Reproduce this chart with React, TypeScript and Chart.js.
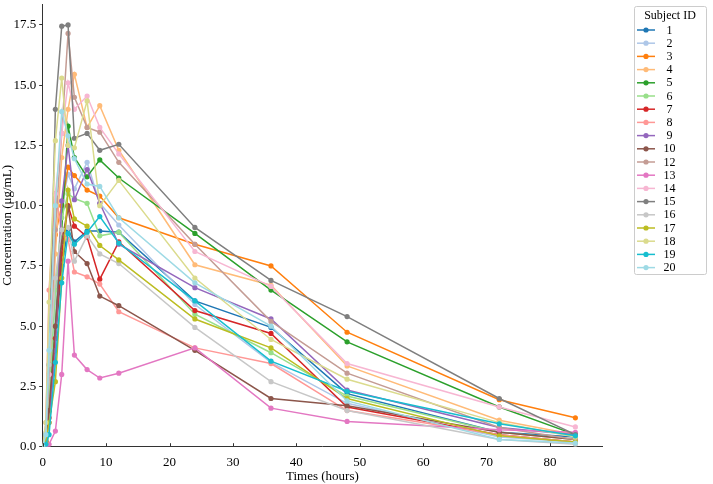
import React, { useEffect, useRef } from 'react';
import { Chart, registerables } from 'chart.js';

Chart.register(...registerables);

const times = [0, 0.5, 1, 2, 3, 4, 5, 7, 9, 12, 24, 36, 48, 72, 84];

const subjectIds = ['1', '2', '3', '4', '5', '6', '7', '8', '9', '10', '12', '13', '14', '15', '16', '17', '18', '19', '20'];

const colors = [
  '#1f77b4', '#aec7e8', '#ff7f0e', '#ffbb78', '#2ca02c', '#98df8a', '#d62728', '#ff9896', '#9467bd', '#8c564b',
  '#c49c94', '#e377c2', '#f7b6d2', '#7f7f7f', '#c7c7c7', '#bcbd22', '#dbdb8d', '#17becf', '#9edae5',
];

const conc1 = [0, 0.3, 1.5, 4.5, 7.5, 9.0, 8.5, 8.95, 8.95, 8.9, 6.05, 4.95, 2.2, 0.6, 0.4];
const conc2 = [0, 0.2, 2.0, 6.0, 10.0, 11.3, 10.7, 11.8, 10.1, 9.2, 5.9, 3.5, 1.8, 0.4, 0.2];
const conc3 = [0, 0.5, 3.0, 8.8, 10.0, 11.6, 11.25, 10.65, 10.4, 9.5, 8.4, 7.5, 4.75, 1.95, 1.2];
const conc4 = [0, 0.3, 2.5, 8.0, 12.0, 14.0, 15.45, 13.25, 14.15, 12.3, 7.55, 6.7, 3.35, 1.1, 0.5];
const conc5 = [0, 0.2, 1.5, 5.0, 9.0, 13.3, 12.0, 11.2, 11.9, 11.15, 8.85, 6.5, 4.35, 1.65, 0.5];
const conc6 = [0, 0.3, 2.0, 6.5, 9.5, 10.5, 10.3, 10.1, 8.75, 8.9, 5.5, 3.9, 2.1, 0.6, 0.3];
const conc7 = [0, 0.2, 1.2, 4.5, 8.0, 10.0, 9.15, 8.7, 6.95, 8.5, 5.65, 4.7, 1.65, 0.5, 0.2];
const conc8 = [0, 1.0, 6.5, 10.5, 8.9, 8.6, 7.25, 7.05, 6.75, 5.6, 4.1, 3.45, 1.5, 0.5, 0.2];
const conc9 = [0, 0.2, 1.0, 4.0, 10.2, 12.5, 10.25, 11.5, 10.1, 8.4, 6.6, 5.3, 2.35, 0.8, 0.5];
const conc10 = [0, 0.5, 1.5, 5.0, 8.5, 9.95, 8.1, 7.6, 6.25, 5.85, 4.0, 2.0, 1.7, 0.6, 0.3];
const conc12 = [0, 0.5, 3.0, 9.0, 13.0, 17.15, 14.5, 13.25, 13.05, 11.8, 8.4, 5.2, 3.05, 0.8, 0.3];
const conc13 = [0, 0, 0.1, 0.65, 3.0, 7.7, 3.8, 3.2, 2.85, 3.05, 4.1, 1.6, 1.05, 0.7, 0.6];
const conc14 = [0, 0.5, 3.0, 10.5, 13.0, 15.1, 14.0, 14.55, 13.25, 12.15, 8.1, 6.65, 3.45, 1.65, 0.82];
const conc15 = [0, 0.5, 3.4, 14.0, 17.45, 17.5, 12.8, 13.0, 12.3, 12.55, 9.1, 6.9, 5.4, 2.0, 0.5];
const conc16 = [0, 0.6, 3.4, 7.0, 9.0, 9.1, 7.7, 8.75, 8.0, 7.6, 4.95, 2.7, 1.5, 0.3, 0.1];
const conc17 = [0, 0.2, 1.0, 2.7, 7.0, 10.65, 9.45, 9.15, 8.35, 7.75, 5.3, 4.1, 2.0, 0.45, 0.2];
const conc18 = [0, 1.0, 6.0, 12.7, 15.3, 12.5, 12.4, 14.35, 10.0, 11.05, 7.0, 4.45, 2.8, 1.0, 0.4];
const conc19 = [0, 0.1, 0.5, 3.5, 6.8, 8.85, 8.4, 8.9, 9.55, 8.45, 6.05, 3.55, 2.3, 0.95, 0.45];
const conc20 = [0, 0.5, 4.0, 10.0, 13.9, 12.9, 11.95, 10.9, 10.8, 9.5, 6.8, 5.0, 1.9, 0.3, 0.15];

const seriesValues = [
  conc1, conc2, conc3, conc4, conc5, conc6, conc7, conc8, conc9, conc10,
  conc12, conc13, conc14, conc15, conc16, conc17, conc18, conc19, conc20,
];

const xTicks = [0, 10, 20, 30, 40, 50, 60, 70, 80];
const yTicks = [0, 2.5, 5, 7.5, 10, 12.5, 15, 17.5];

const FONT = '"Liberation Serif", "DejaVu Serif", serif';

const boxLegend = {
  id: 'boxLegend',
  afterDraw(chart: any) {
    const ctx = chart.ctx;
    ctx.save();
    const x0 = 634.5, y0 = 6.5, w = 72, h = 268;
    ctx.fillStyle = 'rgba(255,255,255,0.8)';
    ctx.strokeStyle = '#cccccc';
    ctx.lineWidth = 1;
    ctx.beginPath();
    if (ctx.roundRect) ctx.roundRect(x0, y0, w, h, 2);
    else ctx.rect(x0, y0, w, h);
    ctx.fill();
    ctx.stroke();
    ctx.font = `12px ${FONT}`;
    ctx.fillStyle = '#000';
    ctx.textAlign = 'center';
    ctx.textBaseline = 'middle';
    ctx.fillText('Subject ID', 670, 16);
    chart.data.datasets.forEach((ds: any, i: number) => {
      const y = 30 + i * 13.2;
      ctx.strokeStyle = ds.borderColor;
      ctx.lineWidth = 1.5;
      ctx.beginPath();
      ctx.moveTo(637, y);
      ctx.lineTo(655, y);
      ctx.stroke();
      ctx.fillStyle = ds.borderColor;
      ctx.beginPath();
      ctx.arc(646, y, 2.6, 0, Math.PI * 2);
      ctx.fill();
      ctx.fillStyle = '#000';
      ctx.fillText(ds.label, 669.5, y + 0.5);
    });
    ctx.restore();
  },
};

const inwardXTicks = {
  id: 'inwardXTicks',
  afterDraw(chart: any) {
    const ctx = chart.ctx;
    const xs = chart.scales.x;
    const bottom = chart.chartArea.bottom;
    ctx.save();
    ctx.strokeStyle = '#333';
    ctx.lineWidth = 1;
    ctx.beginPath();
    xs.ticks.forEach((t: any) => {
      const px = Math.round(xs.getPixelForValue(t.value)) + 0.5;
      ctx.moveTo(px, bottom);
      ctx.lineTo(px, bottom - 3.5);
    });
    ctx.stroke();
    ctx.restore();
  },
};

export default function App() {
  const ref = useRef<HTMLCanvasElement | null>(null);

  useEffect(() => {
    if (!ref.current) return;
    const n = seriesValues.length;
    const chart = new Chart(ref.current, {
      type: 'line',
      data: {
        datasets: seriesValues.map((vals, i) => ({
          label: subjectIds[i],
          data: vals.map((v, j) => ({ x: times[j], y: v })),
          borderColor: colors[i],
          backgroundColor: colors[i],
          pointBackgroundColor: colors[i],
          pointBorderWidth: 0,
          pointRadius: 2.6,
          borderWidth: 1.5,
          tension: 0,
          fill: false,
          order: n - i,
        })),
      },
      options: {
        animation: false,
        responsive: false,
        maintainAspectRatio: false,
        layout: { padding: { left: 0, right: 111, top: 3, bottom: 0 } },
        plugins: {
          legend: { display: false },
          tooltip: { enabled: false },
        },
        scales: {
          x: {
            type: 'linear',
            min: 0,
            max: 88.2,
            afterFit: (s: any) => { s.height = 37.3; s.paddingLeft = 0; s.paddingRight = 0; },
            afterBuildTicks: (s: any) => { s.ticks = xTicks.map((v) => ({ value: v })); },
            border: { display: true, color: '#333', width: 1 },
            grid: { display: true, drawOnChartArea: false, drawTicks: false },
            ticks: {
              padding: 8,
              color: '#000',
              font: { family: FONT, size: 13 },
              maxRotation: 0,
              autoSkip: false,
              callback: (v: any) => String(v),
            },
            title: {
              display: true,
              text: 'Times (hours)',
              color: '#000',
              font: { family: FONT, size: 13 },
              padding: { top: 0, bottom: 0 },
            },
          },
          y: {
            type: 'linear',
            min: 0,
            max: 18.37,
            afterFit: (s: any) => { s.width = 42.7; s.paddingTop = 0; s.paddingBottom = 0; },
            afterBuildTicks: (s: any) => { s.ticks = yTicks.map((v) => ({ value: v })); },
            border: { display: true, color: '#333', width: 1 },
            grid: { display: true, drawOnChartArea: false, drawTicks: true, tickLength: 3.5, color: '#333' },
            ticks: {
              padding: 3,
              color: '#000',
              font: { family: FONT, size: 13 },
              autoSkip: false,
              callback: (v: any) => Number(v).toFixed(1),
            },
            title: {
              display: true,
              text: 'Concentration (μg/mL)',
              color: '#000',
              font: { family: FONT, size: 13 },
              padding: { top: 0, bottom: 0 },
            },
          },
        },
      },
      plugins: [boxLegend, inwardXTicks],
    });
    return () => chart.destroy();
  }, []);

  return (
    <div style={{ position: 'absolute', left: 0, top: 0, width: 713, height: 484, background: '#fff' }}>
      <canvas ref={ref} width={713} height={484} style={{ width: 713, height: 484, display: 'block' }} />
    </div>
  );
}
